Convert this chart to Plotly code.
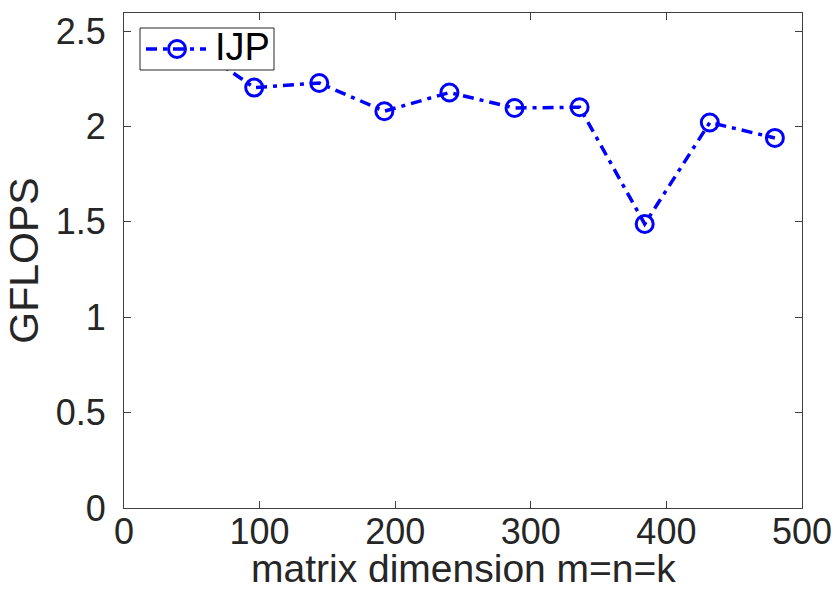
import plotly.graph_objects as go

# matrix sizes m = n = k and measured throughput
dims = [48, 96, 144, 192, 240, 288, 336, 384, 432, 480]
gflops = [2.44, 2.204, 2.228, 2.080, 2.178, 2.097, 2.101, 1.489, 2.021, 1.940]
series_name = "IJP"

x_ticks = [0, 100, 200, 300, 400, 500]
y_ticks = [0, 0.5, 1, 1.5, 2, 2.5]
y_tick_text = ["0", "0.5", "1", "1.5", "2", "2.5"]

axis_color = "#404040"
text_color = "#262626"
line_color = "#0000ff"
line_dash = "11px,6px,4px,6px"
font_family = "Liberation Sans, Arial, Helvetica, sans-serif"

W, H = 835, 592
M_L, M_R, M_T, M_B = 124, 33, 13, 84
plot_w = W - M_L - M_R
plot_h = H - M_T - M_B


def px_x(px):
    """Horizontal page pixel -> paper fraction."""
    return (px - M_L) / plot_w


def px_y(py):
    """Vertical page pixel (from top) -> paper fraction."""
    return (H - M_B - py) / plot_h


fig = go.Figure()
fig.add_trace(go.Scatter(
    x=dims,
    y=gflops,
    mode="lines+markers",
    name=series_name,
    line=dict(color=line_color, width=3.5, dash=line_dash),
    marker=dict(symbol="circle-open", size=17, color=line_color,
                line=dict(width=3, color=line_color)),
    showlegend=False,
))

common_axis = dict(
    showline=True,
    linecolor=axis_color,
    linewidth=1,
    mirror="ticks",
    ticks="inside",
    ticklen=7,
    tickwidth=1,
    tickcolor=axis_color,
    showgrid=False,
    zeroline=False,
    tickfont=dict(family=font_family, size=36, color=text_color),
)

fig.update_xaxes(
    range=[0, 500],
    tickvals=x_ticks,
    ticktext=[str(v) for v in x_ticks],
    ticklabelstandoff=-8,
    **common_axis,
)
fig.update_yaxes(
    range=[0, 2.595],
    tickvals=y_ticks,
    ticktext=y_tick_text,
    ticklabelstandoff=10,
    title=dict(text="GFLOPS",
               font=dict(family=font_family, size=41, color=text_color),
               standoff=4),
    **common_axis,
)

# legend box drawn in the upper-left corner of the axes
box_l, box_r, box_t, box_b = 140, 274, 28, 70
key_y = 49
key_x0, key_x1, key_mx = 146, 206, 177
shapes = [
    dict(type="rect", xref="paper", yref="paper", layer="above",
         x0=px_x(box_l), x1=px_x(box_r), y0=px_y(box_b), y1=px_y(box_t),
         fillcolor="white", line=dict(color=text_color, width=1)),
    dict(type="line", xref="paper", yref="paper", layer="above",
         x0=px_x(key_x0), x1=px_x(key_x1), y0=px_y(key_y), y1=px_y(key_y),
         line=dict(color=line_color, width=3.5, dash=line_dash)),
    dict(type="circle", xref="paper", yref="paper", layer="above",
         xsizemode="pixel", ysizemode="pixel",
         xanchor=px_x(key_mx), yanchor=px_y(key_y),
         x0=-8.5, x1=8.5, y0=-8.5, y1=8.5,
         line=dict(color=line_color, width=3)),
]
annotations = [
    dict(text=series_name, xref="paper", yref="paper",
         x=px_x(213), y=px_y(47), xanchor="left", yanchor="middle",
         showarrow=False,
         font=dict(family=font_family, size=38, color="#000000")),
    # horizontal axis title, placed just below the tick labels
    dict(text="matrix dimension m=n=k", xref="paper", yref="paper",
         x=0.5, y=px_y(568), xanchor="center", yanchor="middle",
         showarrow=False,
         font=dict(family=font_family, size=39, color=text_color)),
]

fig.update_layout(
    width=W,
    height=H,
    margin=dict(l=M_L, r=M_R, t=M_T, b=M_B, autoexpand=False),
    paper_bgcolor="white",
    plot_bgcolor="white",
    showlegend=False,
    shapes=shapes,
    annotations=annotations,
)

fig.write_html("out.html", config={"displayModeBar": False})
